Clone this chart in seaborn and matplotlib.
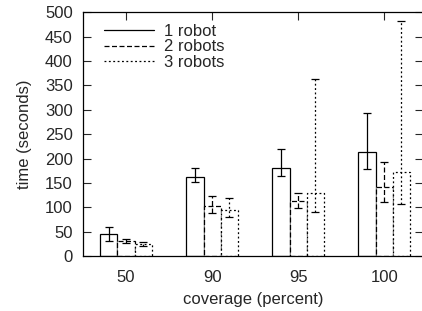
import pandas as pd
import matplotlib
matplotlib.use('Agg')
import matplotlib.pyplot as plt
import seaborn as sns
from matplotlib.lines import Line2D

coverage = ['50', '90', '95', '100']
robots = ['1 robot', '2 robots', '3 robots']

mean_1 = [46, 162, 180, 213]
low_1 = [31, 151, 164, 178]
high_1 = [60, 180, 220, 293]

mean_2 = [30, 103, 113, 142]
low_2 = [27, 88, 98, 111]
high_2 = [34, 123, 130, 192]

mean_3 = [25, 94, 129, 172]
low_3 = [20, 79, 90, 107]
high_3 = [29, 119, 363, 482]

means = [mean_1, mean_2, mean_3]
lows = [low_1, low_2, low_3]
highs = [high_1, high_2, high_3]

rows = []
for r, m in zip(robots, means):
    for c, v in zip(coverage, m):
        rows.append({'coverage': c, 'robots': r, 'time': v})
ddata = pd.DataFrame(rows)

sns.set_style('ticks')
plt.rcParams['font.family'] = ['Liberation Sans', 'DejaVu Sans']
plt.rcParams['font.size'] = 12

styles = ['-', (0, (4, 2)), (0, (1.5, 2))]

fig = plt.figure(figsize=(4.22, 3.11), dpi=100)
ax = fig.add_axes([82.5 / 422, 1 - 256 / 311, (423 - 82.5) / 422, (256 - 12.3) / 311])

sns.barplot(data=ddata, x='coverage', y='time', hue='robots', order=coverage,
            hue_order=robots, width=0.6, errorbar=None, fill=False,
            palette=['black'] * 3, linewidth=0.9, legend=False, ax=ax)

for cont, ls, m, lo, hi in zip(ax.containers, styles, means, lows, highs):
    xs = []
    for p in cont.patches:
        p.set_linestyle(ls)
        p.set_edgecolor('black')
        p.set_facecolor('white')
        p.set_fill(True)
        xs.append(p.get_x() + p.get_width() / 2)
    yerr = [[a - b for a, b in zip(m, lo)], [b - a for a, b in zip(m, hi)]]
    eb = ax.errorbar(xs, m, yerr=yerr, fmt='none', ecolor='black',
                     elinewidth=0.9, capsize=2.6, capthick=0.9)
    for coll in eb[2]:
        coll.set_linestyle(ls)

ax.set_ylim(0, 500)
ax.set_xlim(-0.506, 3.45)
ax.set_yticks(range(0, 501, 50))
ax.tick_params(direction='in', top=True, right=True, length=5.5, width=0.8,
               labelsize=12)
ax.tick_params(axis='y', pad=7)
ax.tick_params(axis='x', pad=10)
for s in ax.spines.values():
    s.set_linewidth(0.9)
    s.set_color('black')

ax.set_xlabel('coverage (percent)', fontsize=12, labelpad=5)
ax.set_ylabel('time (seconds)', fontsize=12, labelpad=9)

handles = [Line2D([], [], color='black', linewidth=0.9, linestyle=ls) for ls in styles]
ax.legend(handles, robots, loc='upper left', frameon=False, fontsize=12,
          handlelength=3.0, handletextpad=0.55, labelspacing=0.05,
          bbox_to_anchor=(0.035, 0.995), borderaxespad=0.2)

fig.savefig('out.png', dpi=100)
